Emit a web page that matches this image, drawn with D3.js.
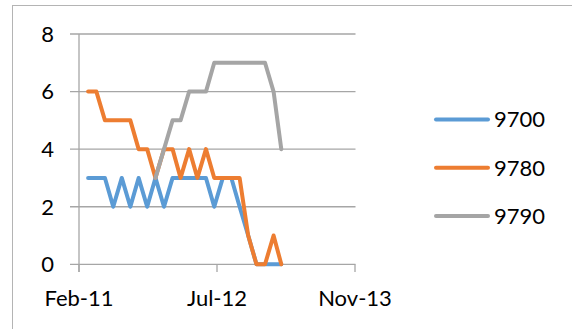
<!DOCTYPE html>
<html><head><meta charset="utf-8">
<script src="https://cdn.jsdelivr.net/npm/d3@7"></script>
<style>body{margin:0;background:#fff}svg{display:block}text{font-family:Lato,"Open Sans",sans-serif;fill:#000}</style>
</head><body><svg id="c" width="572" height="329"></svg>
<script>
const dates = ["2011-03-31","2011-04-30","2011-05-31","2011-06-30","2011-07-31","2011-08-31","2011-09-30","2011-10-31","2011-11-30","2011-12-31","2012-01-31","2012-02-29","2012-03-31","2012-04-30","2012-05-31","2012-06-30","2012-07-31","2012-08-31","2012-09-30","2012-10-31","2012-11-30","2012-12-31","2013-01-31","2013-02-28"];
const s9700 = [3,3,3,2,3,2,3,2,3,2,3,3,3,3,3,2,3,3,2,1,0,0,0,0];
const s9780 = [6,6,5,5,5,5,4,4,3,4,4,3,4,3,4,3,3,3,3,1,0,0,1,0];
const s9790 = [null,null,null,null,null,null,null,null,3,4,5,5,6,6,6,7,7,7,7,7,7,7,6,4];
const seriesNames = ["9700","9780","9790"];
const colors = ["#5b9bd5","#ed7d31","#a5a5a5"];
const xTickDates = ["2011-02-26","2012-07-10","2013-11-22"];
const xTickLabels = ["Feb-11","Jul-12","Nov-13"];
const yTicks = [0,2,4,6,8];

const svg = d3.select("#c");
const parse = d3.utcParse("%Y-%m-%d");
const x = d3.scaleUtc().domain([parse(xTickDates[0]), parse(xTickDates[2])]).range([79, 355]);
const y = d3.scaleLinear().domain([0, 8]).range([264.3, 34]);
const axisCol = "#a6a6a6";

// outer border
svg.append("rect").attr("x",12.5).attr("y",5.5).attr("width",600).attr("height",400)
  .attr("fill","none").attr("stroke","#b4b4b4").attr("stroke-width",1);

// gridlines
svg.append("g").selectAll("line").data(yTicks).join("line")
  .attr("x1",70).attr("x2",355.5).attr("y1",d=>y(d)).attr("y2",d=>y(d))
  .attr("stroke",axisCol).attr("stroke-width",1.3);

// y axis line
svg.append("line").attr("x1",79).attr("x2",79).attr("y1",y(8)).attr("y2",272)
  .attr("stroke",axisCol).attr("stroke-width",1.3);
// x ticks
svg.append("g").selectAll("line").data(xTickDates).join("line")
  .attr("x1",d=>x(parse(d))).attr("x2",d=>x(parse(d))).attr("y1",y(0)).attr("y2",272)
  .attr("stroke",axisCol).attr("stroke-width",1.3);

// y labels
svg.append("g").selectAll("text").data(yTicks).join("text")
  .attr("x",54).attr("y",d=>y(d)).attr("dy","0.36em").attr("text-anchor","end")
  .attr("font-size",22).text(d=>d);
// x labels
svg.append("g").selectAll("text").data(xTickDates).join("text")
  .attr("x",d=>x(parse(d))).attr("y",306).attr("text-anchor","middle")
  .attr("font-size",22).text((d,i)=>xTickLabels[i]);

// lines
const all = [s9700, s9780, s9790];
const line = d3.line().defined(d=>d.v!=null).x(d=>x(d.t)).y(d=>y(d.v));
all.forEach((s,k)=>{
  const pts = s.map((v,i)=>({t:parse(dates[i]), v}));
  svg.append("path").attr("d",line(pts)).attr("fill","none")
    .attr("stroke",colors[k]).attr("stroke-width",4).attr("stroke-linejoin","round").attr("stroke-linecap","round");
});

// legend
const ly = [119.5,167.7,216];
const lg = svg.append("g");
seriesNames.forEach((n,k)=>{
  lg.append("line").attr("x1",436).attr("x2",488).attr("y1",ly[k]).attr("y2",ly[k])
    .attr("stroke",colors[k]).attr("stroke-width",4).attr("stroke-linecap","round");
  lg.append("text").attr("x",494).attr("y",ly[k]).attr("dy","0.36em").attr("font-size",22).text(n);
});
</script></body></html>
